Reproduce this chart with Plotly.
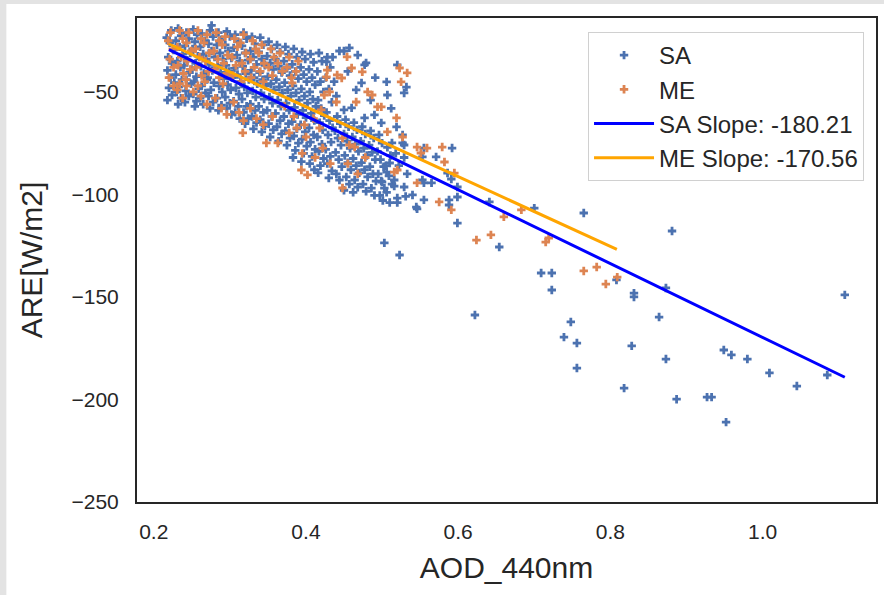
import plotly.graph_objects as go

# ---------------- data ----------------
sa_points = [
    # dense cluster, strip by strip (left to right)
    (0.223,-20),(0.217,-23.5),(0.221,-26),(0.226,-29.5),(0.219,-33),(0.224,-36),(0.218,-39.5),(0.222,-43),(0.227,-45.5),(0.220,-48),(0.224,-51.5),(0.218,-54),
    (0.232,-19),(0.236,-22.5),(0.229,-25),(0.234,-28),(0.238,-31.5),(0.231,-35),(0.235,-38),(0.229,-41.5),(0.237,-44),(0.233,-47.5),(0.230,-50),(0.236,-53),(0.232,-56),
    (0.243,-21),(0.246,-24),(0.241,-27.5),(0.248,-31),(0.244,-34.5),(0.240,-37),(0.247,-40.5),(0.243,-44),(0.249,-46),(0.242,-49.5),(0.246,-52),(0.241,-55),
    (0.252,-19.5),(0.257,-22),(0.254,-25.5),(0.251,-29),(0.258,-32.5),(0.255,-36),(0.250,-39),(0.256,-42.5),(0.253,-45),(0.259,-48.5),(0.252,-51),(0.256,-54.5),(0.254,-57),
    (0.263,-21.5),(0.267,-25),(0.261,-28),(0.265,-31.5),(0.269,-34),(0.262,-37.5),(0.266,-41),(0.270,-44),(0.263,-47),(0.268,-50.5),(0.261,-53),(0.265,-56),
    (0.274,-20),(0.278,-23),(0.272,-26.5),(0.276,-30),(0.280,-33),(0.273,-36.5),(0.277,-39.5),(0.271,-43),(0.279,-45.5),(0.275,-49),(0.272,-52),(0.278,-55),(0.274,-58),
    (0.276,-17.5),
    (0.285,-21),(0.289,-24.5),(0.283,-27),(0.287,-31),(0.291,-34),(0.284,-37),(0.288,-40.5),(0.292,-43.5),(0.286,-47),(0.290,-50),(0.283,-53),(0.289,-56.5),(0.285,-59),
    (0.296,-20.5),(0.300,-23),(0.294,-27),(0.298,-30),(0.302,-33.5),(0.295,-37),(0.299,-40),(0.303,-43),(0.297,-46.5),(0.301,-49),(0.294,-52.5),(0.300,-55.5),(0.296,-58),(0.302,-61),
    (0.307,-22),(0.311,-25.5),(0.305,-28.5),(0.309,-32),(0.313,-35),(0.306,-38.5),(0.310,-41.5),(0.314,-45),(0.308,-48),(0.312,-51),(0.305,-54.5),(0.311,-57),(0.307,-60),(0.313,-63),
    (0.318,-21),(0.322,-24),(0.316,-27.5),(0.320,-31),(0.324,-34.5),(0.317,-37.5),(0.321,-41),(0.325,-44),(0.319,-47.5),(0.323,-50.5),(0.316,-53.5),(0.322,-57),(0.318,-60),(0.324,-63),(0.320,-65.5),
    (0.329,-23),(0.333,-26.5),(0.327,-30),(0.331,-33),(0.335,-36.5),(0.328,-39.5),(0.332,-43),(0.336,-46),(0.330,-49.5),(0.334,-52.5),(0.327,-56),(0.333,-59),(0.329,-62),(0.335,-65),(0.331,-68),
    (0.340,-23.5),(0.344,-27),(0.338,-30.5),(0.342,-34),(0.346,-37),(0.339,-40.5),(0.343,-44),(0.347,-47),(0.341,-50.5),(0.345,-53.5),(0.338,-57),(0.344,-60),(0.340,-63.5),(0.346,-66.5),(0.342,-69.5),
    (0.351,-25.5),(0.355,-29),(0.349,-32.5),(0.353,-36),(0.357,-39),(0.350,-42.5),(0.354,-46),(0.358,-49),(0.352,-52.5),(0.356,-55.5),(0.349,-59),(0.355,-62),(0.351,-65.5),(0.357,-68.5),(0.353,-72),
    (0.362,-27),(0.366,-30.5),(0.360,-34),(0.364,-37.5),(0.368,-40.5),(0.361,-44),(0.365,-47.5),(0.369,-50.5),(0.363,-54),(0.367,-57),(0.360,-60.5),(0.366,-64),(0.362,-67),(0.368,-70.5),(0.364,-74),
    (0.373,-28),(0.377,-31.5),(0.371,-35),(0.375,-38.5),(0.379,-42),(0.372,-45.5),(0.376,-49),(0.380,-52),(0.374,-55.5),(0.378,-59),(0.371,-62),(0.377,-65.5),(0.373,-69),(0.379,-72.5),(0.375,-76),
    (0.384,-29),(0.388,-33),(0.382,-36.5),(0.386,-40),(0.390,-43.5),(0.383,-47),(0.387,-50.5),(0.391,-54),(0.385,-57.5),(0.389,-61),(0.382,-64.5),(0.388,-68),(0.384,-71.5),(0.390,-75),(0.386,-78.5),(0.383,-82),
    (0.395,-30.5),(0.399,-34),(0.393,-38),(0.397,-41.5),(0.401,-45),(0.394,-48.5),(0.398,-52),(0.402,-55.5),(0.396,-59),(0.400,-62.5),(0.393,-66),(0.399,-69.5),(0.395,-73),(0.401,-76.5),(0.397,-80),(0.394,-84),
    (0.406,-31.5),(0.410,-35.5),(0.404,-39),(0.408,-43),(0.412,-46.5),(0.405,-50),(0.409,-53.5),(0.413,-57),(0.407,-60.5),(0.411,-64),(0.404,-67.5),(0.410,-71),(0.406,-74.5),(0.412,-78),(0.408,-81.5),(0.405,-85),(0.411,-88),
    (0.417,-31),(0.421,-35),(0.415,-40),(0.419,-45),(0.423,-50),(0.416,-54),(0.420,-58),(0.424,-61.5),(0.418,-65),(0.422,-68.5),(0.415,-72),(0.421,-75.5),(0.417,-79),(0.423,-82.5),(0.419,-86),(0.416,-89.5),
    (0.428,-33),(0.432,-38),(0.426,-43),(0.430,-48.5),(0.434,-55),(0.427,-60),(0.431,-64),(0.435,-67.5),(0.429,-71),(0.433,-74.5),(0.426,-78),(0.432,-81.5),(0.428,-85),(0.434,-88.5),(0.430,-92),
    (0.435,-33),(0.444,-30),(0.440,-52),(0.437,-45),(0.441,-62),(0.445,-65.5),(0.438,-69),(0.442,-72.5),(0.446,-76),(0.439,-79.5),(0.443,-83),(0.447,-86.5),(0.440,-90),(0.444,-93),
    (0.452,-63.5),(0.456,-67),(0.450,-70.5),(0.454,-74),(0.458,-77.5),(0.451,-81),(0.455,-84.5),(0.459,-88),(0.453,-91.5),(0.457,-95),(0.450,-98),
    (0.463,-65),(0.467,-68.5),(0.461,-72),(0.465,-75.5),(0.469,-79),(0.462,-82.5),(0.466,-86),(0.470,-89.5),(0.464,-93),(0.468,-96.5),(0.462,-99),
    (0.474,-67),(0.478,-70.5),(0.472,-74),(0.476,-77.5),(0.480,-81),(0.473,-84.5),(0.477,-88),(0.481,-91.5),(0.475,-95),(0.479,-98.5),
    (0.485,-69),(0.489,-72.5),(0.483,-76),(0.487,-79.5),(0.491,-83),(0.484,-86.5),(0.488,-90),(0.492,-93.5),(0.486,-97),(0.490,-100.5),
    (0.496,-71),(0.500,-75),(0.494,-79),(0.498,-83),(0.502,-86.5),(0.495,-90),(0.499,-93.5),(0.503,-97),(0.497,-100.5),(0.501,-103),
    (0.507,-77),(0.511,-81),(0.505,-86),(0.509,-91),(0.513,-95),(0.506,-99),(0.510,-104),
    (0.518,-80),(0.522,-86),(0.516,-96),(0.520,-104),
    (0.529,-82),(0.533,-90),(0.531,-101),
    # sparse points above the dense band
    (0.457,-28.5),(0.450,-30),(0.427,-35.3),(0.479,-35.8),(0.477,-36.8),(0.520,-36.8),(0.491,-43),
    (0.473,-45.6),(0.506,-45.1),(0.532,-47.6),(0.529,-50.5),(0.507,-51.5),(0.460,-57.8),(0.450,-58.8),
    (0.477,-62.7),(0.490,-61.2),(0.499,-65.1),(0.519,-67.1),(0.466,-49),(0.455,-40),(0.485,-54),
    (0.512,-58),(0.468,-32),
    # right edge of the cluster and outliers
    (0.555,-77.4),(0.553,-81.7),(0.592,-77.4),(0.571,-81.7),(0.553,-93),(0.565,-94.4),(0.555,-94.4),
    (0.591,-92.5),(0.586,-89.6),(0.599,-96.4),(0.555,-102.7),(0.588,-102.7),(0.588,-105.2),(0.599,-101.3),
    (0.599,-114),(0.540,-100.3),(0.545,-106.2),(0.546,-107.1),(0.529,-96.4),(0.520,-101.8),(0.516,-93),
    (0.500,-94),(0.506,-89.1),(0.510,-84.7),(0.513,-74.9),(0.527,-74.9),(0.527,-71),(0.529,-75.9),
    (0.641,-103.7),(0.654,-125.7),(0.700,-106.7),(0.709,-138.4),(0.723,-138.4),(0.723,-146.7),
    (0.765,-109.1),(0.622,-158.9),(0.748,-162.3),(0.739,-169.7),(0.756,-172.6),(0.756,-184.8),
    (0.808,-141.8),(0.828,-174),(0.831,-148.2),(0.831,-150.1),(0.864,-159.9),(0.873,-180.4),
    (0.881,-117.9),(0.873,-145.7),(0.818,-194.6),(0.887,-200),(0.927,-199),(0.933,-199),
    (0.949,-176),(0.959,-178.4),(0.980,-180.4),(0.952,-211.2),(1.009,-187.2),(1.045,-193.6),
    (1.085,-188.2),(1.108,-149.1),(0.503,-123.7),(0.523,-129.6),
]

me_points = [
    # dense upper-left group
    (0.222,-21),(0.219,-25),(0.225,-29),(0.221,-34),(0.226,-38),(0.220,-43),
    (0.234,-20),(0.238,-24),(0.231,-28),(0.236,-33),(0.232,-37),(0.239,-41),(0.234,-46),
    (0.246,-21),(0.243,-26),(0.249,-30),(0.244,-35),(0.248,-39),(0.242,-44),
    (0.258,-20),(0.262,-24),(0.255,-29),(0.260,-33),(0.256,-38),(0.263,-42),(0.258,-47),
    (0.270,-22),(0.266,-26),(0.273,-31),(0.268,-35),(0.272,-40),(0.267,-45),
    (0.282,-21),(0.286,-25),(0.279,-30),(0.284,-34),(0.280,-39),(0.286,-43),
    (0.294,-23),(0.290,-27),(0.297,-32),(0.292,-36),(0.296,-41),(0.291,-46),
    (0.306,-24),(0.310,-28),(0.303,-33),(0.308,-37),(0.304,-42),
    (0.318,-22),(0.314,-26),(0.321,-31),(0.316,-36),(0.320,-40),(0.315,-45),
    (0.330,-25),(0.334,-29),(0.327,-34),(0.332,-38),(0.328,-43),
    (0.342,-27),(0.338,-31),(0.345,-36),(0.340,-40),(0.344,-45),
    (0.354,-29),(0.358,-33),(0.351,-38),(0.356,-42),
    (0.366,-31),(0.363,-36),(0.369,-40),
    (0.378,-33),(0.375,-38),(0.381,-43),
    (0.390,-35),(0.387,-40),
    # orange points inside the blue band
    (0.262,-52),(0.270,-56),(0.281,-53),(0.289,-58),(0.296,-61),(0.305,-55),(0.312,-60),(0.318,-64),
    (0.317,-70),(0.327,-58),(0.335,-63),(0.348,-74.9),(0.363,-74.9),(0.344,-66),(0.356,-62),(0.372,-57),
    (0.384,-62),(0.231,-49),(0.243,-47),(0.252,-50),(0.238,-53),(0.226,-47),(0.400,-72),(0.410,-63),
    (0.378,-70),(0.395,-80),(0.412,-82),(0.432,-85),(0.448,-96.9),(0.468,-90),(0.455,-85),(0.478,-82),
    # sparse points to the right
    (0.454,-32.9),(0.460,-38.3),(0.474,-40.2),(0.481,-50),(0.487,-51.5),(0.523,-38.3),(0.533,-40.7),
    (0.525,-45.1),(0.466,-54.9),(0.499,-57.3),(0.519,-62.7),(0.507,-69.5),(0.527,-72),(0.546,-76.9),
    (0.559,-77.4),(0.579,-76.9),(0.582,-84.2),(0.595,-89.6),(0.546,-94.4),(0.575,-103.7),(0.591,-107.6),
    (0.520,-88.1),(0.516,-89.1),(0.394,-88.1),(0.402,-90.5),(0.428,-39.3),(0.427,-42.7),(0.441,-41.7),
    (0.447,-43.2),(0.431,-50),(0.424,-51.5),(0.440,-54.9),(0.420,-58.8),(0.398,-66.1),(0.388,-67.6),
    (0.418,-67.6),(0.422,-77.4),(0.448,-72.5),(0.457,-75.9),(0.464,-76.9),(0.382,-45.6),(0.494,-57.3),
    (0.551,-79.8),(0.624,-122.3),(0.643,-119.8),(0.660,-111),(0.683,-107.6),(0.715,-123.3),(0.719,-121.3),
    (0.765,-137.4),(0.782,-135.5),(0.794,-143.8),(0.809,-140.4),
]

sa_x = [p[0] for p in sa_points]
sa_y = [p[1] for p in sa_points]
me_x = [p[0] for p in me_points]
me_y = [p[1] for p in me_points]

# regression line end points
sa_fit_x = [0.22, 1.108]
sa_fit_y = [-29.3, -189.3]
me_fit_x = [0.22, 0.8085]
me_fit_y = [-26.6, -126.9]

sa_slope_label = "SA Slope: -180.21"
me_slope_label = "ME Slope: -170.56"

x_ticks = [0.2, 0.4, 0.6, 0.8, 1.0]
y_ticks = [-50, -100, -150, -200, -250]

# ---------------- figure ----------------
FONT = "Liberation Sans, Arial, sans-serif"
TXT = "#262626"

fig = go.Figure()
fig.add_trace(go.Scatter(x=sa_x, y=sa_y, mode="markers", name="SA",
                         marker=dict(symbol="cross", size=7, color="#4c72b0", line=dict(width=0))))
fig.add_trace(go.Scatter(x=me_x, y=me_y, mode="markers", name="ME",
                         marker=dict(symbol="cross", size=7, color="#dd8452", line=dict(width=0))))
fig.add_trace(go.Scatter(x=sa_fit_x, y=sa_fit_y, mode="lines", name=sa_slope_label,
                         line=dict(color="blue", width=3)))
fig.add_trace(go.Scatter(x=me_fit_x, y=me_fit_y, mode="lines", name=me_slope_label,
                         line=dict(color="orange", width=3)))

L, R, T, B = 137, 6, 18, 93
PW, PH = 884 - L - R, 595 - T - B

fig.update_layout(
    width=884, height=595,
    margin=dict(l=L, r=R, t=T, b=B, pad=0),
    paper_bgcolor="#e3e3e3",
    plot_bgcolor="white",
    font=dict(family=FONT, color=TXT),
    showlegend=True,
    legend=dict(
        x=(866 - L) / PW, xanchor="right",
        y=(595 - B - 32) / PH, yanchor="top",
        bgcolor="rgba(255,255,255,0.85)",
        bordercolor="#d0d0d0", borderwidth=1,
        font=dict(size=24, family=FONT, color=TXT),
        itemwidth=60,
    ),
    shapes=[dict(type="rect", xref="paper", yref="paper",
                 x0=(6 - L) / PW, x1=(884 - L) / PW + 0.01,
                 y0=-(B + 5) / PH, y1=(595 - B - 4) / PH,
                 fillcolor="white", line=dict(width=0), layer="below")],
)

fig.update_xaxes(
    range=[0.178, 1.149], tickvals=x_ticks, tickformat=".1f",
    showgrid=False, zeroline=False,
    showline=True, mirror=True, linecolor="#262626", linewidth=2,
    ticks="outside", ticklen=10, tickcolor="rgba(0,0,0,0)",
    tickfont=dict(size=21, family=FONT, color=TXT),
    title=dict(text="AOD_440nm", font=dict(size=30, family=FONT, color=TXT), standoff=15),
)
fig.update_yaxes(
    range=[-250.2, -13.9], tickvals=y_ticks,
    showgrid=False, zeroline=False,
    showline=True, mirror=True, linecolor="#262626", linewidth=2,
    ticks="outside", ticklen=12, tickcolor="rgba(0,0,0,0)",
    tickfont=dict(size=21, family=FONT, color=TXT),
    title=dict(text="ARE[W/m2]", font=dict(size=30, family=FONT, color=TXT), standoff=20),
)

fig.write_html("out.html")
